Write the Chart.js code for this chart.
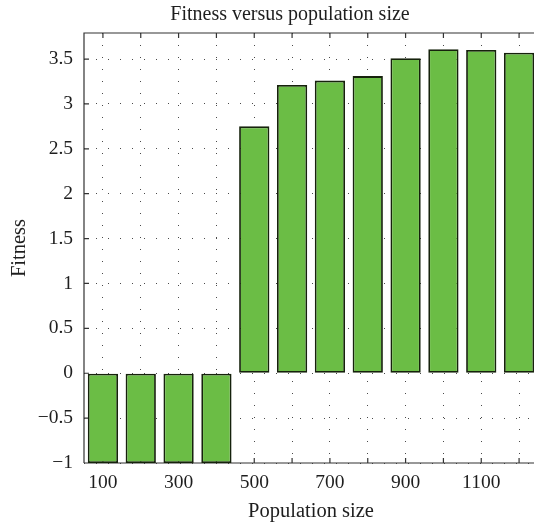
<!DOCTYPE html>
<html>
<head>
<meta charset="utf-8">
<title>Fitness versus population size</title>
<script src="https://cdn.jsdelivr.net/npm/chart.js@4.4.1/dist/chart.umd.min.js"></script>
<style>
  html, body { margin: 0; padding: 0; background: #fff; overflow: hidden; }
  #wrap { width: 540px; height: 531px; }
</style>
</head>
<body>
<div id="wrap"><canvas id="chart" width="540" height="531"></canvas></div>
<script>
// Population sizes that were tried, and the best fitness found with each
const POP_SIZES = ['100', '200', '300', '400', '500', '600', '700', '800', '900', '1000', '1100', '1200'];
const FITNESS = [-1, -1, -1, -1, 2.75, 3.21, 3.26, 3.31, 3.51, 3.61, 3.60, 3.57];

// Fitness axis range
const Y_MIN = -1;
const Y_MAX = 3.79;
const Y_STEP = 0.5;

const TITLE = 'Fitness versus population size';
const X_TITLE = 'Population size';
const Y_TITLE = 'Fitness';

const FONT = '"Liberation Serif", "Times New Roman", serif';
const INK = '#1e1e1e';
const BAR_FILL = '#6bbd45';
const BAR_EDGE = '#16220c';

// Minus sign for negative tick labels
function fmtTick(v) {
  const s = String(Math.round(Math.abs(v) * 100) / 100);
  return v < 0 ? '\u2212' + s : s;
}

// Box lines, inward tick marks and the title
const frame = {
  id: 'frame',
  beforeDatasetsDraw(chart) {
    const { ctx, chartArea: a, scales } = chart;
    const len = 5;
    ctx.save();
    ctx.strokeStyle = '#333';
    ctx.lineWidth = 1.2;
    ctx.beginPath();
    ctx.moveTo(a.left, a.bottom);
    ctx.lineTo(a.left, a.top);
    ctx.lineTo(a.right, a.top);
    ctx.moveTo(a.left, a.bottom);
    ctx.lineTo(a.right, a.bottom);
    scales.x.ticks.forEach((t, i) => {
      const px = scales.x.getPixelForTick(i);
      ctx.moveTo(px, a.top);
      ctx.lineTo(px, a.top + len);
      ctx.moveTo(px, a.bottom);
      ctx.lineTo(px, a.bottom - len);
    });
    scales.y.ticks.forEach((t, i) => {
      const py = scales.y.getPixelForTick(i);
      ctx.moveTo(a.left, py);
      ctx.lineTo(a.left + len, py);
    });
    ctx.stroke();
    ctx.restore();
  },
  afterDraw(chart) {
    const { ctx, chartArea: a } = chart;
    ctx.save();
    ctx.fillStyle = INK;
    ctx.font = '20px ' + FONT;
    ctx.textAlign = 'center';
    ctx.textBaseline = 'middle';
    ctx.fillText(TITLE, (a.left + a.right) / 2 - 21, 15);
    ctx.restore();
  }
};

new Chart(document.getElementById('chart'), {
  type: 'bar',
  data: {
    labels: POP_SIZES,
    datasets: [{
      data: FITNESS,
      backgroundColor: BAR_FILL,
      borderColor: BAR_EDGE,
      borderWidth: 1.8,
      borderSkipped: false,
      categoryPercentage: 1,
      barPercentage: 0.8
    }]
  },
  options: {
    responsive: false,
    animation: false,
    devicePixelRatio: 1,
    layout: { padding: { top: 33, left: 0, right: 2, bottom: 0 } },
    plugins: {
      legend: { display: false },
      tooltip: { enabled: false }
    },
    scales: {
      x: {
        afterFit(scale) { scale.height = 68; },
        grid: { offset: false, color: '#4a4a4a', lineWidth: 1, drawTicks: false },
        border: { display: false, dash: [1, 11] },
        ticks: {
          autoSkip: false,
          maxRotation: 0,
          padding: 8,
          color: INK,
          font: { family: FONT, size: 19.5 },
          callback(value, index) {
            return index % 2 === 0 ? this.getLabelForValue(value) : '';
          }
        },
        title: {
          display: true,
          text: X_TITLE,
          color: INK,
          font: { family: FONT, size: 20.5 },
          padding: { top: 0, bottom: 7 }
        }
      },
      y: {
        min: Y_MIN,
        max: Y_MAX,
        afterFit(scale) { scale.width = 84; },
        grid: { color: '#4a4a4a', lineWidth: 1, drawTicks: false },
        border: { display: false, dash: [1, 11] },
        ticks: {
          stepSize: Y_STEP,
          includeBounds: false,
          padding: 11,
          color: INK,
          font: { family: FONT, size: 19.5 },
          callback: fmtTick
        },
        title: {
          display: true,
          text: Y_TITLE,
          color: INK,
          font: { family: FONT, size: 20.5 },
          padding: { top: 7, bottom: 0 }
        }
      }
    }
  },
  plugins: [frame]
});
</script>
</body>
</html>
